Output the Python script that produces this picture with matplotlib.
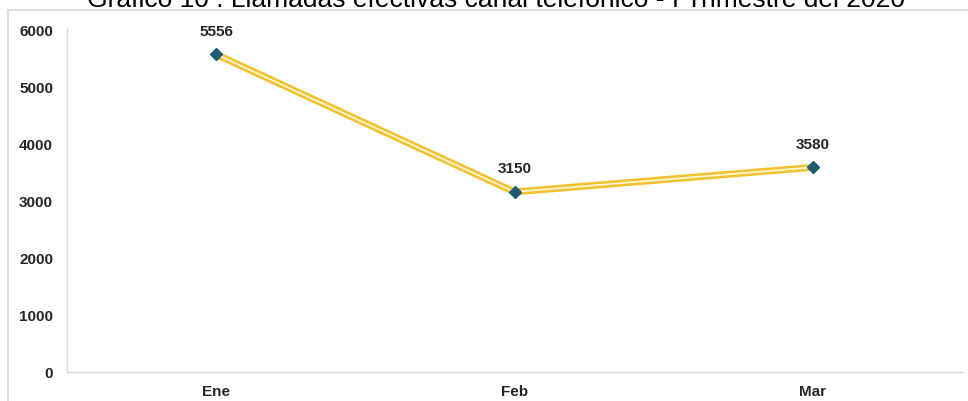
import matplotlib.pyplot as plt
from matplotlib.patches import Rectangle

# Llamadas efectivas canal telefonico - I trimestre 2020
months = ['Ene', 'Feb', 'Mar']
calls = [5556, 3150, 3580]

plt.rcParams['font.family'] = ['Liberation Sans', 'DejaVu Sans']

fig = plt.figure(figsize=(9.68, 4.02), dpi=100)
ax = fig.add_axes([67 / 968, 29 / 402, 895 / 968, 343 / 402])

# outer frame of the chart box
fig.patches.append(Rectangle((8 / 968, -0.01), 1.0, (391 / 402) + 0.01,
                             transform=fig.transFigure, fill=False,
                             edgecolor='#d9d9d9', linewidth=1.2))

x = list(range(len(months)))
ax.plot(x, calls, color='#f2c12e', linewidth=5, solid_capstyle='butt', zorder=2)
ax.plot(x, calls, color='#fff6d5', linewidth=1.3, zorder=3)
ax.plot(x, calls, linestyle='none', marker='D', markersize=6.5,
        color='#1d5c73', zorder=4)

for xi, v in zip(x, calls):
    ax.annotate(str(v), (xi, v), xytext=(0, 12), textcoords='offset points',
                ha='center', va='bottom', fontsize=11, fontweight='bold',
                color='#262626')

ax.set_xlim(-0.5, 2.5)
ax.set_ylim(0, 6000)
ax.set_yticks(range(0, 6001, 1000))
ax.set_xticks(x)
ax.set_xticklabels(months)
for lbl in ax.get_xticklabels() + ax.get_yticklabels():
    lbl.set_fontweight('bold')
    lbl.set_fontsize(11)
    lbl.set_color('#262626')
ax.tick_params(length=0, pad=10)
ax.tick_params(axis='x', pad=9)

for side in ['top', 'right']:
    ax.spines[side].set_visible(False)
for side in ['left', 'bottom']:
    ax.spines[side].set_color('#d9d9d9')
    ax.spines[side].set_linewidth(1)

fig.text(496 / 968, 1 - 7 / 402,
         'Gráfico 10 : Llamadas efectivas canal telefónico - I Trimestre del 2020',
         ha='center', va='baseline', fontsize=19, color='black')

fig.savefig('out.png', dpi=100)
